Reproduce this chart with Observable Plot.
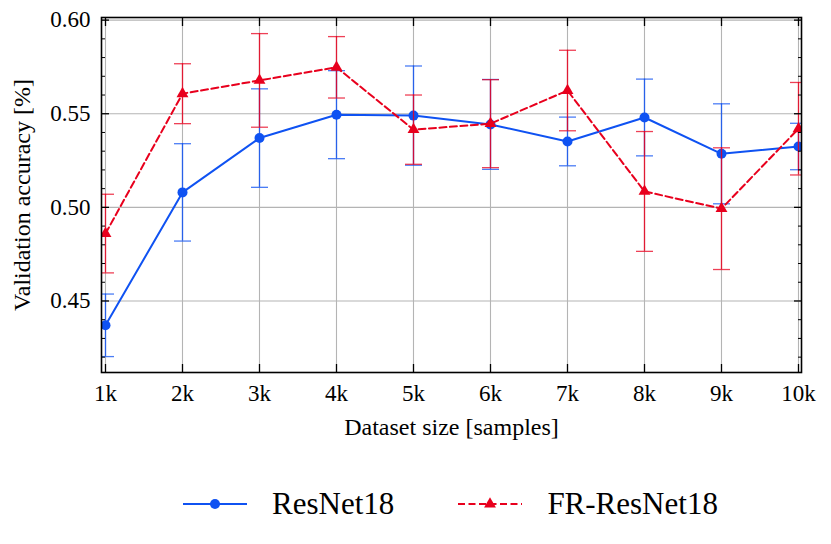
<!DOCTYPE html>
<html>
<head>
<meta charset="utf-8">
<script src="https://cdn.jsdelivr.net/npm/d3@7"></script>
<script src="https://cdn.jsdelivr.net/npm/@observablehq/plot@0.6"></script>
<style>
  html, body { margin: 0; padding: 0; background: white; }
  #chart { width: 831px; }
  #chart svg text { font-family: "Liberation Serif", "Times New Roman", serif !important; }
  .legend { width: 831px; height: 94px; display: flex; justify-content: center; align-items: flex-start;
    font-family: "Liberation Serif", "Times New Roman", serif; font-size: 31px; color: #000; box-sizing: border-box; padding-left: 70px; }
  .item { display: flex; align-items: center; margin-top: 36px; }
  .item svg { margin-right: 25px; }
  .item + .item { margin-left: 64px; }
</style>
</head>
<body>
<div id="chart"></div>
<script>
const sizes = ["1k","2k","3k","4k","5k","6k","7k","8k","9k","10k"];
const resnet    = [0.437, 0.508, 0.537, 0.5495, 0.549, 0.5443, 0.5352, 0.548, 0.5286, 0.5325];
const resnetErr = [0.0167, 0.026, 0.0263, 0.0235, 0.0265, 0.024, 0.013, 0.0205, 0.0267, 0.0124];
const fr        = [0.486, 0.5607, 0.5678, 0.5748, 0.5415, 0.5447, 0.5624, 0.5085, 0.4993, 0.542];
const frErr     = [0.021, 0.016, 0.025, 0.0164, 0.0185, 0.0235, 0.0215, 0.032, 0.0325, 0.0247];
const yMajor = [0.45, 0.50, 0.55, 0.60];
const yMinor = [0.42,0.43,0.44,0.46,0.47,0.48,0.49,0.51,0.52,0.53,0.54,0.56,0.57,0.58,0.59];
const yDomain = [0.4118, 0.6014];
const seriesNames = ["ResNet18", "FR-ResNet18"];
const blue = "#0f52f2";
const red = "#e8001d";
const serif = "Liberation Serif";

const rows = (vals, errs, name) => sizes.map((s, i) => ({size: s, v: vals[i], lo: vals[i] - errs[i], hi: vals[i] + errs[i], name}));
const A = rows(resnet, resnetErr, seriesNames[0]);
const B = rows(fr, frErr, seriesNames[1]);

// horizontal-dash symbol for error bar caps (half width = r)
const capSymbol = {
  draw(context, size) {
    const w = Math.sqrt(size / Math.PI);
    context.moveTo(-w, 0);
    context.lineTo(w, 0);
  }
};

function series(data, color, dash, symbol, r) {
  return [
    Plot.ruleX(data, {x: "size", y1: "lo", y2: "hi", stroke: color, strokeWidth: 1.3, strokeOpacity: 0.85, clip: true}),
    Plot.dot(data, {x: "size", y: "lo", symbol: capSymbol, r: 8.5, stroke: color, fill: "none", strokeWidth: 1.3, strokeOpacity: 0.75, clip: true}),
    Plot.dot(data, {x: "size", y: "hi", symbol: capSymbol, r: 8.5, stroke: color, fill: "none", strokeWidth: 1.3, strokeOpacity: 0.75, clip: true}),
    Plot.line(data, {x: "size", y: "v", stroke: color, strokeWidth: 2, strokeDasharray: dash, clip: true}),
    Plot.dot(data, {x: "size", y: "v", fill: color, stroke: "none", symbol, r, clip: true})
  ];
}

const chart = Plot.plot({
  width: 831, height: 450,
  marginLeft: 101, marginRight: 30, marginTop: 17, marginBottom: 78,
  style: {background: "white", color: "black", fontFamily: serif, fontSize: "23px"},
  x: {type: "point", domain: sizes, padding: 0},
  y: {domain: yDomain},
  marks: [
    Plot.gridX(sizes, {stroke: "#b4b4b4", strokeOpacity: 1, strokeWidth: 1.1}),
    Plot.gridY(yMajor, {stroke: "#b4b4b4", strokeOpacity: 1, strokeWidth: 1.1}),
    ...series(A, blue, null, "circle", 5),
    ...series(B, red, "7,3.5", "triangle", 4.4),
    // tick labels
    Plot.axisX(sizes, {anchor: "bottom", tickSize: 0, tickPadding: 12, fontFamily: serif, fontSize: 23, label: "Dataset size [samples]", labelAnchor: "center", labelOffset: 62, labelArrow: "none"}),
    Plot.axisY(yMajor, {anchor: "left", tickSize: 0, tickPadding: 11, fontFamily: serif, fontSize: 23, tickFormat: d3.format(".2f"), label: "Validation accuracy [%]", labelAnchor: "center", labelOffset: 89, labelArrow: "none"}),
    // inner ticks
    Plot.axisX(sizes, {anchor: "bottom", tickSize: 8, dy: -8, fill: "none", label: null, strokeWidth: 1.3}),
    Plot.axisX(sizes, {anchor: "top", tickSize: 8, dy: 8, fill: "none", label: null, strokeWidth: 1.3}),
    Plot.axisY(yMajor, {anchor: "left", tickSize: 8, dx: 8, fill: "none", label: null, strokeWidth: 1.3}),
    Plot.axisY(yMajor, {anchor: "right", tickSize: 8, dx: -8, fill: "none", label: null, strokeWidth: 1.3}),
    Plot.axisY(yMinor, {anchor: "left", tickSize: 4, dx: 4, fill: "none", label: null, strokeWidth: 1}),
    Plot.axisY(yMinor, {anchor: "right", tickSize: 4, dx: -4, fill: "none", label: null, strokeWidth: 1}),
    Plot.frame({stroke: "black", strokeWidth: 1.6})
  ]
});
// enforce serif font on every text element of the chart
d3.select(chart).selectAll("text")
  .attr("font-family", serif).attr("font-size", 23)
  .style("font-family", "'Liberation Serif', serif", "important")
  .style("font-size", "23px", "important");
d3.select(chart).selectAll('g[aria-label="x-axis label"] text, g[aria-label="y-axis label"] text')
  .attr("font-size", 24).style("font-size", "24px", "important");
document.getElementById("chart").appendChild(chart);

// legend
const legend = document.createElement("div");
legend.className = "legend";
const items = [
  {name: seriesNames[0], color: blue, dash: null, sym: "circle"},
  {name: seriesNames[1], color: red, dash: "7,3.5", sym: "triangle"}
];
for (const it of items) {
  const d = document.createElement("div");
  d.className = "item";
  const ns = "http://www.w3.org/2000/svg";
  const s = document.createElementNS(ns, "svg");
  s.setAttribute("width", 64); s.setAttribute("height", 20);
  const l = document.createElementNS(ns, "line");
  l.setAttribute("x1", 0); l.setAttribute("x2", 64); l.setAttribute("y1", 10); l.setAttribute("y2", 10);
  l.setAttribute("stroke", it.color); l.setAttribute("stroke-width", 2);
  if (it.dash) l.setAttribute("stroke-dasharray", it.dash);
  s.appendChild(l);
  const p = document.createElementNS(ns, "path");
  p.setAttribute("d", d3.symbol(it.sym === "circle" ? d3.symbolCircle : d3.symbolTriangle, it.sym === "circle" ? Math.PI * 25 : Math.PI * 4.4 * 4.4)());
  p.setAttribute("transform", "translate(32,10)");
  p.setAttribute("fill", it.color);
  s.appendChild(p);
  d.appendChild(s);
  const t = document.createElement("span");
  t.textContent = it.name;
  d.appendChild(t);
  legend.appendChild(d);
}
document.body.appendChild(legend);
</script>
</body>
</html>
